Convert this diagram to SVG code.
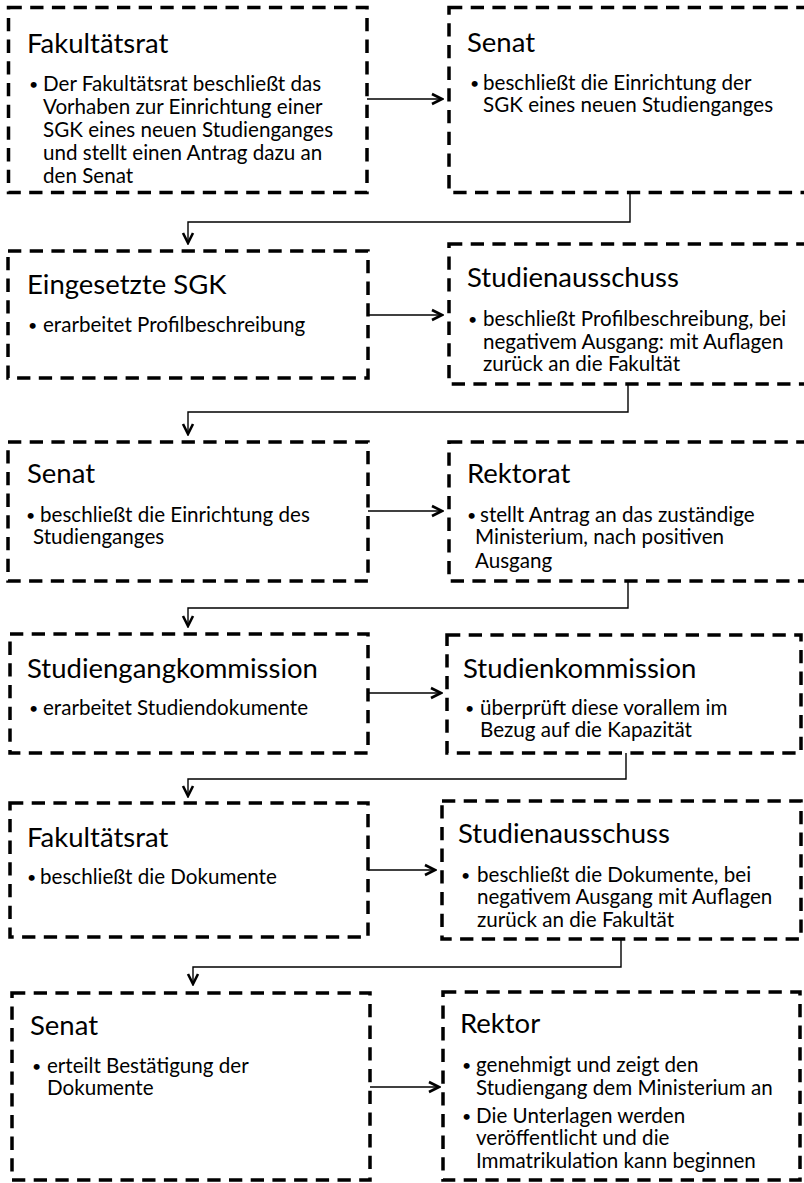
<svg xmlns="http://www.w3.org/2000/svg" width="804" height="1183" viewBox="0 0 804 1183">
<defs>
<style>
.box{fill:#fff;stroke:#000;stroke-width:3.5;stroke-dasharray:13.3 8.4}
.t{font-family:Lato,"Open Sans",sans-serif;font-size:27.5px;fill:#000}
.b{font-family:Lato,"Open Sans",sans-serif;font-size:20.6px;fill:#000}
.d{font-family:Lato,"Open Sans",sans-serif;font-size:16px;fill:#000}
.c{fill:none;stroke:#000;stroke-width:1.4}
</style>
<marker id="ah" viewBox="0 0 14 14" markerWidth="14" markerHeight="14" refX="12" refY="7" orient="auto" markerUnits="userSpaceOnUse">
<path d="M2,2 L12,7 L2,12" fill="none" stroke="#000" stroke-width="2.6"/>
</marker>
</defs>
<rect width="804" height="1183" fill="#fff"/>
<g id="connectors">
<path class="c" d="M367,99 H442" marker-end="url(#ah)"/>
<path class="c" d="M368,315 H442" marker-end="url(#ah)"/>
<path class="c" d="M368,511 H442" marker-end="url(#ah)"/>
<path class="c" d="M368,693 H441" marker-end="url(#ah)"/>
<path class="c" d="M368,870 H435" marker-end="url(#ah)"/>
<path class="c" d="M370,1087 H439" marker-end="url(#ah)"/>
<path class="c" d="M630,192 V222 H188 V243" marker-end="url(#ah)"/>
<path class="c" d="M628,384 V412 H188 V434" marker-end="url(#ah)"/>
<path class="c" d="M628,581 V608 H188 V626" marker-end="url(#ah)"/>
<path class="c" d="M626,753 V779 H188 V796" marker-end="url(#ah)"/>
<path class="c" d="M621,939 V967 H193 V984" marker-end="url(#ah)"/>
</g>
<g id="n1">
<rect class="box" x="8.5" y="7.5" width="358.5" height="185"/>
<text class="t" x="27" y="53">Fakultätsrat</text>
<text class="d" x="29" y="90">•</text>
<text class="b" x="43" y="91">Der Fakultätsrat beschließt das</text>
<text class="b" x="43" y="114">Vorhaben zur Einrichtung einer</text>
<text class="b" x="43" y="137">SGK eines neuen Studienganges</text>
<text class="b" x="43" y="160">und stellt einen Antrag dazu an</text>
<text class="b" x="43" y="183">den Senat</text>
</g>
<g id="n2">
<rect class="box" x="449" y="7.5" width="372" height="185"/>
<text class="t" x="467" y="52">Senat</text>
<text class="d" x="470" y="89">•</text>
<text class="b" x="483" y="90">beschließt die Einrichtung der</text>
<text class="b" x="483" y="112">SGK eines neuen Studienganges</text>
</g>
<g id="n3">
<rect class="box" x="8" y="251" width="360" height="127"/>
<text class="t" x="27" y="294">Eingesetzte SGK</text>
<text class="d" x="28" y="331">•</text>
<text class="b" x="43" y="332">erarbeitet Profilbeschreibung</text>
</g>
<g id="n4">
<rect class="box" x="449" y="244" width="372" height="140"/>
<text class="t" x="467" y="287">Studienausschuss</text>
<text class="d" x="468" y="325">•</text>
<text class="b" x="483" y="326">beschließt Profilbeschreibung, bei</text>
<text class="b" x="483" y="349">negativem Ausgang: mit Auflagen</text>
<text class="b" x="483" y="371">zurück an die Fakultät</text>
</g>
<g id="n5">
<rect class="box" x="8" y="442" width="360" height="139"/>
<text class="t" x="27" y="483">Senat</text>
<text class="d" x="26" y="521">•</text>
<text class="b" x="40" y="522">beschließt die Einrichtung des</text>
<text class="b" x="33" y="544">Studienganges</text>
</g>
<g id="n6">
<rect class="box" x="449" y="442" width="372" height="139"/>
<text class="t" x="467" y="483">Rektorat</text>
<text class="d" x="467" y="521">•</text>
<text class="b" x="480" y="522">stellt Antrag an das zuständige</text>
<text class="b" x="475" y="544">Ministerium, nach positiven</text>
<text class="b" x="475" y="568">Ausgang</text>
</g>
<g id="n7">
<rect class="box" x="10" y="634" width="358" height="119"/>
<text class="t" x="27" y="678">Studiengangkommission</text>
<text class="d" x="29" y="714">•</text>
<text class="b" x="43" y="715">erarbeitet Studiendokumente</text>
</g>
<g id="n8">
<rect class="box" x="447" y="635" width="354" height="118"/>
<text class="t" x="463" y="678">Studienkommission</text>
<text class="d" x="465" y="714">•</text>
<text class="b" x="480" y="715">überprüft diese vorallem im</text>
<text class="b" x="480" y="737">Bezug auf die Kapazität</text>
</g>
<g id="n9">
<rect class="box" x="10" y="803" width="358" height="134"/>
<text class="t" x="27" y="847">Fakultätsrat</text>
<text class="d" x="27" y="883">•</text>
<text class="b" x="40" y="884">beschließt die Dokumente</text>
</g>
<g id="n10">
<rect class="box" x="442" y="801" width="359" height="138"/>
<text class="t" x="458" y="843">Studienausschuss</text>
<text class="d" x="461" y="881">•</text>
<text class="b" x="477" y="882">beschließt die Dokumente, bei</text>
<text class="b" x="477" y="904">negativem Ausgang mit Auflagen</text>
<text class="b" x="477" y="927">zurück an die Fakultät</text>
</g>
<g id="n11">
<rect class="box" x="12" y="993" width="358" height="187"/>
<text class="t" x="30" y="1035">Senat</text>
<text class="d" x="32" y="1072">•</text>
<text class="b" x="47" y="1073">erteilt Bestätigung der</text>
<text class="b" x="47" y="1095">Dokumente</text>
</g>
<g id="n12">
<rect class="box" x="443" y="992" width="357" height="188"/>
<text class="t" x="460" y="1033">Rektor</text>
<text class="d" x="462" y="1071">•</text>
<text class="b" x="476" y="1072">genehmigt und zeigt den</text>
<text class="b" x="476" y="1094.5">Studiengang dem Ministerium an</text>
<text class="d" x="462" y="1122">•</text>
<text class="b" x="476" y="1123">Die Unterlagen werden</text>
<text class="b" x="476" y="1145">veröffentlicht und die</text>
<text class="b" x="476" y="1168">Immatrikulation kann beginnen</text>
</g>
</svg>
